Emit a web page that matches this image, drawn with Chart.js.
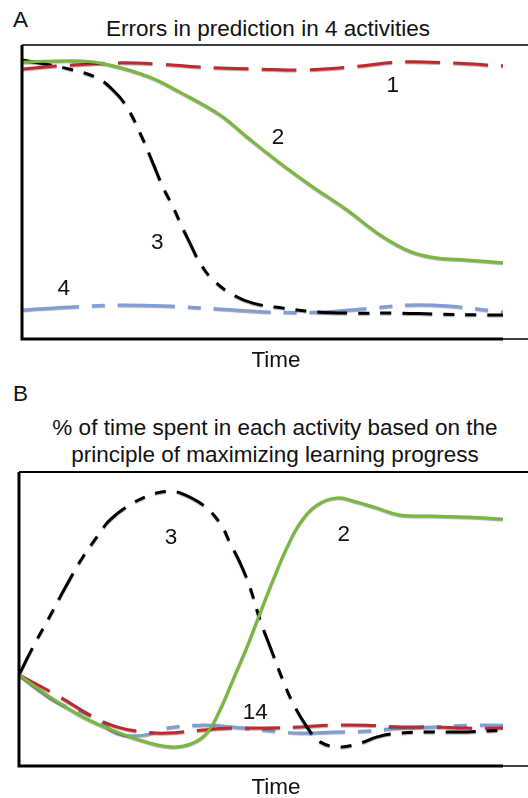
<!DOCTYPE html>
<html>
<head>
<meta charset="utf-8">
<script src="https://cdn.jsdelivr.net/npm/chart.js@4.4.0/dist/chart.umd.min.js"></script>
<style>
  body { margin: 0; background: #fff; width: 528px; height: 798px; position: relative; overflow: hidden; font-family: "Liberation Sans", Arial, sans-serif; }
  canvas { position: absolute; left: 0; }
  .txt { position: absolute; font-size: 22.5px; line-height: 22.5px; color: #111; white-space: nowrap; }
  .center { transform: translateX(-50%); text-align: center; }
</style>
</head>
<body>
<div class="txt" style="left:13px;top:9px">A</div>
<div class="txt center" style="left:268px;top:18px">Errors in prediction in 4 activities</div>
<canvas id="chartA" width="528" height="380" style="top:0"></canvas>
<div class="txt center" style="left:276px;top:349px">Time</div>

<div class="txt" style="left:13px;top:383px">B</div>
<div class="txt center" style="left:275px;top:414px;line-height:27px">% of time spent in each activity based on the<br>principle of maximizing learning progress</div>
<canvas id="chartB" width="528" height="408" style="top:390px"></canvas>
<div class="txt center" style="left:276px;top:776px">Time</div>

<script>
// panel A: errors in prediction (time and value arrays per activity)
const tA1 = [0, 7.9, 19.3, 28.7, 37, 49.5, 58.8, 68.2, 78.6, 89.2, 100];
const errA1 = [91.8, 92.9, 93.9, 93.5, 92.5, 91.8, 91.5, 92.5, 94.2, 93.9, 92.9];

const tA2 = [0, 12.5, 18.3, 26.6, 32.8, 41.2, 46.8, 53.6, 60.5, 67.6, 74.4, 80.7, 86, 92.5, 100];
const errA2 = [94.2, 94.6, 93.2, 89.1, 84.0, 76.2, 68.7, 59.9, 51.7, 43.9, 35.5, 29.8, 27.6, 26.9, 25.9];

const tA3 = [0, 5.8, 10.6, 15.6, 18.9, 21.8, 25.2, 27.2, 29.3, 31.4, 33.3, 34.9, 37, 39.7, 43.9, 48, 54.3, 61.3, 68.2, 78.6, 85.4, 95.8, 100];
const errA3 = [94.9, 93.2, 91.5, 88.8, 84.7, 78.9, 67.7, 59.9, 51.7, 44.9, 38.1, 32.7, 25.9, 20.1, 15, 12.2, 10.5, 9.2, 8.8, 8.8, 8.5, 8.2, 8.2];

const tA4 = [0, 10, 20.4, 30.8, 41.2, 51.6, 62, 72.3, 80.7, 89, 100];
const errA4 = [9.9, 10.9, 11.6, 11.2, 10.2, 9.2, 9.2, 10.5, 11.6, 11.2, 9.2];

// panel B: % of time spent in each activity
const tB1 = [0, 7.8, 15.4, 20.2, 25.7, 30.5, 37.4, 44.3, 51.2, 58.1, 65, 71.8, 78.7, 85.6, 92.5, 100];
const pctB1 = [31, 24.1, 16.7, 13.3, 11.6, 11.2, 12.2, 12.9, 12.9, 13.3, 13.9, 13.9, 13.3, 13.3, 12.9, 12.9];

const tB2 = [0, 6.4, 13.2, 20.2, 27.1, 31.8, 35.9, 38.8, 41.5, 44.2, 47.1, 49.8, 52.5, 55.4, 58.1, 61.6, 65.7, 69.8, 73.9, 78.7, 85.5, 92.6, 100];
const pctB2 = [31, 23.5, 16.7, 11.6, 7.8, 6.5, 7.8, 11.2, 19, 29.3, 40.5, 52, 63.3, 74.5, 82.7, 88.8, 91.2, 89.8, 87.8, 85.4, 85, 84.7, 84];

const tB3 = [0, 2.9, 6.4, 8.5, 11.2, 13.2, 16.1, 18.8, 23.6, 28.5, 30.9, 33.3, 38, 41.5, 43.6, 45.7, 47.7, 49.8, 51.9, 54.5, 56.6, 59.5, 62.2, 66.3, 70.5, 74, 78.7, 85.5, 92.6, 100];
const pctB3 = [31, 40.5, 51, 57.5, 65.6, 71.1, 77.9, 83.7, 89.5, 92.9, 93.4, 92.9, 88.8, 82.7, 75.9, 69, 60.9, 49.7, 40.5, 29.3, 21.4, 13.3, 8.2, 6.5, 7.8, 9.9, 11.2, 11.6, 11.6, 12.2];

const tB4 = [0, 7.8, 15.4, 20.2, 25.7, 30.5, 37.4, 44.3, 51.2, 58.1, 65, 71.8, 78.7, 85.6, 92.5, 100];
const pctB4 = [31, 21.8, 16.7, 11.2, 10.5, 12.9, 13.9, 13.3, 12.2, 11.2, 11.6, 11.9, 12.9, 13.3, 13.9, 13.9];

// curve numbers written on the plots
const labelsA = ['1', '2', '3', '4'];
const labelXA = [77.1, 53.2, 28.1, 8.7];
const labelYA = [86.7, 69.0, 33.3, 17.7];
const labelsB = ['3', '2', '14'];
const labelXB = [31.4, 67.1, 48.8];
const labelYB = [78.2, 79.3, 18.7];

const RED = '#c1272d';
const GREEN = '#78b83c';
const BLUE = '#7f9dd6';
const BLACK = '#000000';

function pts(t, v) {
  return t.map((x, i) => ({ x: x, y: v[i] }));
}

function line(data, color, dash) {
  return {
    data: data,
    borderColor: color,
    borderWidth: 3,
    borderDash: dash,
    borderCapStyle: 'butt',
    pointRadius: 0,
    tension: 0.4,
    fill: false
  };
}

// soft grey shadow under every curve, like the original drawing
const shadow = {
  id: 'shadow',
  beforeDatasetDraw(chart) {
    const ctx = chart.ctx;
    ctx.save();
    ctx.shadowColor = 'rgba(0,0,0,0.35)';
    ctx.shadowOffsetY = 1;
    ctx.shadowBlur = 1;
  },
  afterDatasetDraw(chart) {
    chart.ctx.restore();
  }
};

// open box: thick left and bottom axes, thin top line running to the page edge
const frame = {
  id: 'frame',
  afterDraw(chart, args, opts) {
    const ctx = chart.ctx;
    const a = chart.chartArea;
    const w = chart.width;
    ctx.save();
    ctx.strokeStyle = '#000';
    ctx.lineWidth = opts.top;
    ctx.beginPath();
    ctx.moveTo(a.left, a.top);
    ctx.lineTo(w, a.top);
    ctx.stroke();
    ctx.lineWidth = 1.5;
    ctx.beginPath();
    ctx.moveTo(a.right, a.bottom);
    ctx.lineTo(w, a.bottom);
    ctx.stroke();
    ctx.lineWidth = 3;
    ctx.beginPath();
    ctx.moveTo(a.left, a.top);
    ctx.lineTo(a.left, a.bottom + 1.5);
    ctx.moveTo(a.left - 1.5, a.bottom);
    ctx.lineTo(a.right, a.bottom);
    ctx.stroke();
    ctx.restore();
  }
};

const curveLabels = {
  id: 'curveLabels',
  afterDraw(chart, args, opts) {
    const ctx = chart.ctx;
    const xs = chart.scales.x, ys = chart.scales.y;
    ctx.save();
    ctx.fillStyle = '#111';
    ctx.font = '22.5px "Liberation Sans", Arial, sans-serif';
    ctx.textAlign = 'center';
    ctx.textBaseline = 'alphabetic';
    opts.text.forEach((s, i) => {
      ctx.fillText(s, xs.getPixelForValue(opts.x[i]), ys.getPixelForValue(opts.y[i]) + 8);
    });
    ctx.restore();
  }
};

function makeChart(id, datasets, padding, lbl, topWidth) {
  return new Chart(document.getElementById(id), {
    type: 'line',
    data: { datasets: datasets },
    options: {
      responsive: false,
      animation: false,
      layout: { padding: padding },
      plugins: {
        legend: { display: false },
        tooltip: { enabled: false },
        frame: { top: topWidth },
        curveLabels: lbl
      },
      scales: {
        x: { type: 'linear', min: 0, max: 100, display: false },
        y: { min: 0, max: 100, display: false }
      }
    },
    plugins: [shadow, frame, curveLabels]
  });
}

// dataset 0 is drawn on top
makeChart('chartA', [
  line(pts(tA2, errA2), GREEN, []),
  line(pts(tA1, errA1), RED, [35, 13]),
  line(pts(tA3, errA3), BLACK, [30, 11, 11, 11, 11, 11]),
  line(pts(tA4, errA4), BLUE, [57, 13, 13, 13])
], { left: 22, right: 25, top: 45, bottom: 41 },
  { text: labelsA, x: labelXA, y: labelYA }, 1.5);

makeChart('chartB', [
  line(pts(tB2, pctB2), GREEN, []),
  line(pts(tB3, pctB3), BLACK, [30, 11, 11, 11, 11, 11]),
  line(pts(tB1, pctB1), RED, [35, 13]),
  line(pts(tB4, pctB4), BLUE, [57, 13, 13, 13])
], { left: 19, right: 25, top: 82, bottom: 32 },
  { text: labelsB, x: labelXB, y: labelYB }, 2);
</script>
</body>
</html>
